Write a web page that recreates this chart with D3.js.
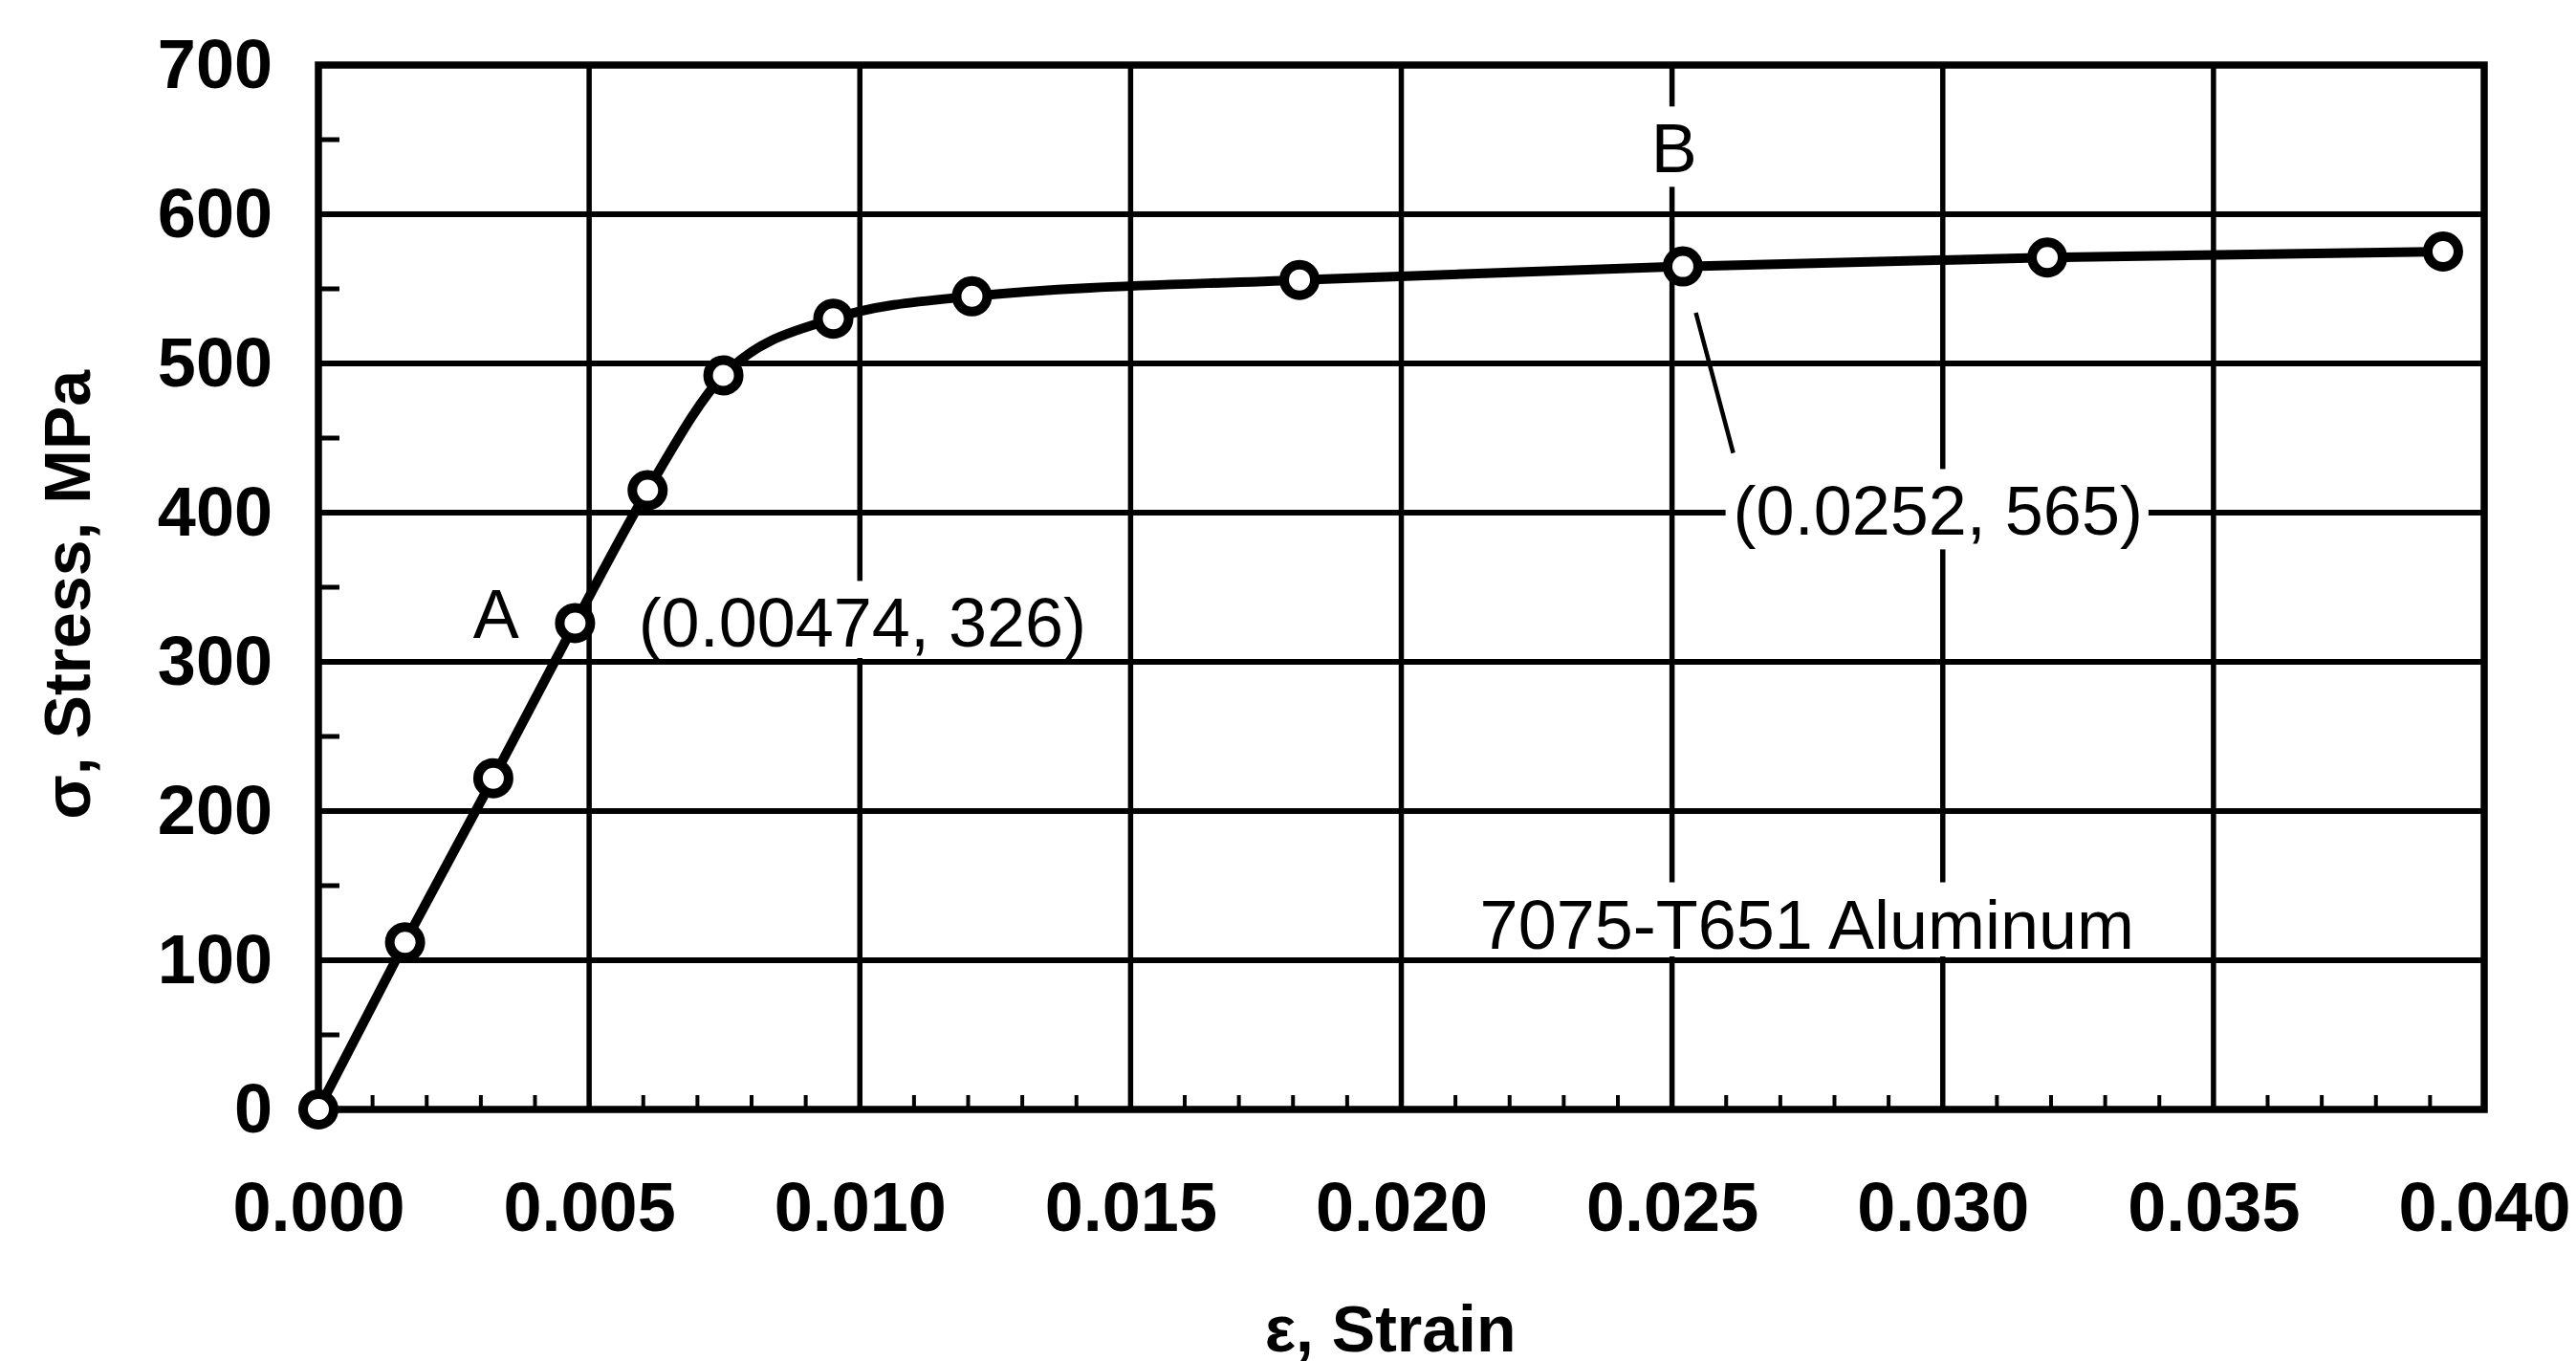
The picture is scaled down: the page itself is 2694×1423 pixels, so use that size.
<!DOCTYPE html>
<html>
<head>
<meta charset="utf-8">
<script src="https://cdn.jsdelivr.net/npm/d3@7"></script>
<style>
  html, body { margin: 0; padding: 0; background: #fff; }
  svg { display: block; }
  text { font-family: "Liberation Sans", Arial, Helvetica, sans-serif; fill: #000; }
</style>
</head>
<body>
<svg width="2694" height="1423"></svg>
<script>
// values
const strain = [0, 0.0016, 0.00323, 0.00474, 0.00608, 0.00748, 0.00951, 0.01207, 0.01812, 0.0252, 0.03193, 0.03924]
const stress = [0, 112, 222, 326, 415, 492, 530, 545, 556, 565, 571, 575]

const xTicks = [0, 0.005, 0.010, 0.015, 0.020, 0.025, 0.030, 0.035, 0.040]
const xTickLabels = ['0.000', '0.005', '0.010', '0.015', '0.020', '0.025', '0.030', '0.035', '0.040']
const yTicks = [0, 100, 200, 300, 400, 500, 600, 700]
const yTickLabels = ['0', '100', '200', '300', '400', '500', '600', '700']

// annotations, anchored in data units
const noteText = ['A', '(0.00474, 326)', 'B', '(0.0252, 565)', '7075-T651 Aluminum']
const noteX = [0.00328, 0.00591, 0.02504, 0.02613, 0.02145]
const noteY = [316, 310, 628, 385, 108]
const noteAnchor = ['middle', 'start', 'middle', 'start', 'start']
const noteGap = [false, true, true, true, true]
// grid line that the gap behind a label must stop above
const noteFloor = [null, 300, null, null, 100]

const svg = d3.select('svg')
const margin = { top: 68, right: 96, bottom: 263, left: 333 }
const width = +svg.attr('width')
const height = +svg.attr('height')
const innerWidth = width - margin.left - margin.right
const innerHeight = height - margin.top - margin.bottom

const g = svg.append('g')
  .attr('transform', 'translate(' + margin.left + ',' + margin.top + ')')

const xScale = d3.scaleLinear().domain([0, 0.040]).range([0, innerWidth])
const yScale = d3.scaleLinear().domain([0, 700]).range([innerHeight, 0])

// grid
g.append('g').selectAll('line').data(xTicks.slice(1, -1)).join('line')
  .attr('x1', d => xScale(d)).attr('x2', d => xScale(d))
  .attr('y1', 0).attr('y2', innerHeight)
  .attr('stroke', '#000').attr('stroke-width', 5.5)

g.append('g').selectAll('line').data(yTicks.slice(1, -1)).join('line')
  .attr('x1', 0).attr('x2', innerWidth)
  .attr('y1', d => yScale(d)).attr('y2', d => yScale(d))
  .attr('stroke', '#000').attr('stroke-width', 6)

// minor ticks
const xMinor = d3.range(1, 40).filter(i => i % 5 !== 0).map(i => i / 1000)
g.append('g').selectAll('line').data(xMinor).join('line')
  .attr('x1', d => xScale(d)).attr('x2', d => xScale(d))
  .attr('y1', innerHeight).attr('y2', innerHeight - 15)
  .attr('stroke', '#000').attr('stroke-width', 4)

const yMinor = d3.range(50, 700, 100)
g.append('g').selectAll('line').data(yMinor).join('line')
  .attr('x1', 0).attr('x2', 22)
  .attr('y1', d => yScale(d)).attr('y2', d => yScale(d))
  .attr('stroke', '#000').attr('stroke-width', 5)

// annotation labels, with a clear gap in the grid behind them
const notes = g.append('g')
noteText.forEach((t, i) => {
  const tx = notes.append('text')
    .attr('x', xScale(noteX[i]))
    .attr('y', yScale(noteY[i]))
    .attr('text-anchor', noteAnchor[i])
    .attr('font-size', 72)
    .text(t)
  if (noteGap[i]) {
    const b = tx.node().getBBox()
    let bottom = b.y + b.height
    if (noteFloor[i] !== null) bottom = Math.min(bottom, yScale(noteFloor[i]) - 4)
    notes.insert('rect', 'text')
      .attr('x', b.x - 8).attr('y', b.y - 4)
      .attr('width', b.width + 14).attr('height', bottom - b.y + 4)
      .attr('fill', '#fff')
  }
})

// leader from point B to its label
g.append('line')
  .attr('x1', xScale(0.02544)).attr('y1', yScale(534))
  .attr('x2', xScale(0.02613)).attr('y2', yScale(440))
  .attr('stroke', '#000').attr('stroke-width', 4.5)

// frame
g.append('rect')
  .attr('width', innerWidth).attr('height', innerHeight)
  .attr('fill', 'none').attr('stroke', '#000').attr('stroke-width', 7.5)

// axes (labels only)
const xAxis = g.append('g')
  .attr('transform', 'translate(0,' + innerHeight + ')')
  .call(d3.axisBottom(xScale).tickValues(xTicks)
    .tickFormat((d, i) => xTickLabels[i]).tickSize(0).tickPadding(76))
xAxis.select('.domain').remove()
xAxis.selectAll('text')
  .attr('font-size', 72).attr('font-weight', 'bold')
  .attr('font-family', '"Liberation Sans", Arial, sans-serif')

const yAxis = g.append('g')
  .call(d3.axisLeft(yScale).tickValues(yTicks)
    .tickFormat((d, i) => yTickLabels[i]).tickSize(0).tickPadding(48))
yAxis.select('.domain').remove()
yAxis.selectAll('text')
  .attr('font-size', 72).attr('font-weight', 'bold')
  .attr('font-family', '"Liberation Sans", Arial, sans-serif')

// curve
const pts = strain.map((s, i) => [s, stress[i]])
g.append('path')
  .datum(pts)
  .attr('fill', 'none').attr('stroke', '#000').attr('stroke-width', 10)
  .attr('stroke-linejoin', 'round')
  .attr('d', d3.line().x(d => xScale(d[0])).y(d => yScale(d[1])).curve(d3.curveMonotoneX))

g.append('g').selectAll('circle').data(pts).join('circle')
  .attr('cx', d => xScale(d[0])).attr('cy', d => yScale(d[1]))
  .attr('r', 16)
  .attr('fill', '#fff').attr('stroke', '#000').attr('stroke-width', 10)

// axis titles
svg.append('text')
  .attr('x', margin.left + xScale(0.0198)).attr('y', 1413)
  .attr('text-anchor', 'middle').attr('font-size', 68).attr('font-weight', 'bold')
  .text('ε, Strain')

svg.append('text')
  .attr('transform', 'translate(94,' + (margin.top + yScale(345)) + ') rotate(-90)')
  .attr('text-anchor', 'middle').attr('font-size', 68).attr('font-weight', 'bold')
  .text('σ, Stress, MPa')
</script>
</body>
</html>
